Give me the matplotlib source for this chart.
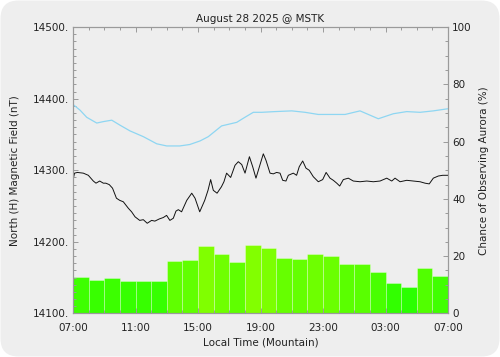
import numpy as np
import matplotlib
matplotlib.use('Agg')
import matplotlib.pyplot as plt
from matplotlib.patches import FancyBboxPatch
from matplotlib.colors import LinearSegmentedColormap, Normalize
from matplotlib.ticker import MultipleLocator, FuncFormatter

# hours after 07:00 local
field_hours = [0.0, 0.1, 0.28, 0.66, 0.98, 1.3, 1.47, 1.71, 1.94, 2.1, 2.32, 2.53,
               2.78, 2.99, 3.22, 3.54, 3.75, 3.97, 4.27, 4.5, 4.75, 5.03, 5.24,
               5.52, 5.78, 5.99, 6.2, 6.42, 6.59, 6.74, 6.95, 7.28, 7.6, 7.81,
               8.11, 8.43, 8.64, 8.81, 8.98, 9.22, 9.5, 9.66, 9.83, 10.09, 10.37,
               10.58, 10.8, 11.01, 11.29, 11.5, 11.71, 11.93, 12.18, 12.35, 12.61,
               12.82, 13.03, 13.25, 13.42, 13.63, 13.78, 14.1, 14.31, 14.48, 14.7,
               14.91, 15.12, 15.38, 15.7, 15.98, 16.2, 16.45, 16.66, 16.88, 17.07,
               17.3, 17.62, 17.94, 18.37, 18.8, 19.22, 19.65, 20.08, 20.4, 20.61,
               20.93, 21.36, 21.78, 22.21, 22.53, 22.8, 23.06, 23.38, 23.66, 24.0]
field_nt = [14287, 14296, 14297, 14296, 14293, 14285, 14282, 14285, 14282, 14282,
            14280, 14275, 14261, 14258, 14256, 14247, 14242, 14235, 14230, 14231,
            14226, 14230, 14229, 14232, 14234, 14237, 14230, 14233, 14243, 14245,
            14242, 14258, 14268, 14261, 14242, 14258, 14272, 14287, 14272, 14268,
            14277, 14284, 14296, 14290, 14307, 14312, 14308, 14296, 14319, 14305,
            14289, 14305, 14323, 14314, 14296, 14295, 14297, 14296, 14286, 14285,
            14293, 14296, 14293, 14305, 14313, 14303, 14300, 14291, 14284, 14287,
            14297, 14289, 14286, 14282, 14278, 14287, 14289, 14285, 14284, 14285,
            14284, 14285, 14289, 14285, 14289, 14284, 14286, 14285, 14284, 14282,
            14281, 14289, 14292, 14293, 14293]

quiet_hours = [0, 0.45, 0.88, 1.52, 1.94, 2.48, 3.01, 3.65, 4.5, 5.36, 6.0, 6.83,
               7.47, 8.13, 8.66, 9.51, 10.48, 11.0, 11.54, 12.08, 12.93, 14.0,
               14.85, 15.7, 17.41, 18.37, 19.54, 20.5, 21.36, 22.21, 23.06, 24]
quiet_nt = [14392, 14384, 14374, 14366, 14368, 14370, 14363, 14355, 14347, 14337,
            14334, 14334, 14336, 14341, 14347, 14362, 14367, 14374, 14381, 14381,
            14382, 14383, 14381, 14378, 14378, 14383, 14372, 14379, 14382, 14381,
            14383, 14386]

aurora_pct = [12.6, 11.6, 12.3, 11.4, 11.5, 11.3, 18.3, 18.5, 23.6, 20.8, 18.1, 23.9,
              22.9, 19.3, 19.0, 20.6, 20.0, 17.3, 17.1, 14.5, 10.7, 9.3, 15.9, 13.0]

tick_hours = [0, 4, 8, 12, 16, 20, 24]
tick_labels = ['07:00', '11:00', '15:00', '19:00', '23:00', '03:00', '07:00']

fig = plt.figure(figsize=(5, 3.57), dpi=100, facecolor='white')
bg = FancyBboxPatch((0.5, 0.5), 499, 356, boxstyle='round,pad=0,rounding_size=18',
                    transform=None, facecolor='#eeeeee', edgecolor='none', zorder=-10)
fig.patches.append(bg)

ax = fig.add_axes([0.146, 0.122, 0.75, 0.802])
ax2 = ax.twinx()
ax.set_zorder(ax2.get_zorder() + 1)
ax.patch.set_visible(False)
ax2.patch.set_visible(False)

cmap = LinearSegmentedColormap.from_list('grn', ['#22ff00', '#88ff00'])
norm = Normalize(8, 25)
ax2.bar(np.arange(24), aurora_pct, width=1.0, align='edge',
        color=cmap(norm(np.array(aurora_pct))),
        edgecolor=(1, 1, 1, 0.35), linewidth=0.6)

ax.plot(quiet_hours, quiet_nt, color='#8ed6f2', lw=0.9)
ax.plot(field_hours, field_nt, color='#111111', lw=0.7)

ax.set_xlim(0, 24)
ax.set_ylim(14100, 14500)
ax2.set_ylim(0, 100)

ax.set_xticks(tick_hours)
ax.set_xticklabels(tick_labels)
ax.xaxis.set_minor_locator(MultipleLocator(1))
ax.yaxis.set_major_locator(MultipleLocator(100))
ax.yaxis.set_minor_locator(MultipleLocator(10))
ax.yaxis.set_major_formatter(FuncFormatter(lambda v, p: f'{v:.0f}.'))
ax2.yaxis.set_major_locator(MultipleLocator(20))
ax2.yaxis.set_minor_locator(MultipleLocator(5))

spine_c = '#9a9a9a'
for a in (ax, ax2):
    for s in a.spines.values():
        s.set_color(spine_c)
        s.set_linewidth(0.8)
    a.tick_params(which='both', direction='in', color=spine_c, labelsize=7.5,
                  labelcolor='#222222', width=0.7, pad=3)
    a.tick_params(which='major', length=3.6)
    a.tick_params(which='minor', length=2.2)
ax.tick_params(axis='x', which='both', top=True, pad=7)
ax.tick_params(axis='y', which='both', right=False)
ax2.tick_params(axis='y', which='both', left=False)

ax.set_title('August 28 2025 @ MSTK', fontsize=7.5, color='#222222', pad=4)
ax.set_xlabel('Local Time (Mountain)', fontsize=7.5, color='#222222', labelpad=3)
ax.set_ylabel('North (H) Magnetic Field (nT)', fontsize=7.5, color='#222222', labelpad=9)
ax2.set_ylabel('Chance of Observing Aurora (%)', fontsize=7.5, color='#222222',
               rotation=90, labelpad=5)

fig.savefig('out.png', dpi=100, facecolor=fig.get_facecolor())
